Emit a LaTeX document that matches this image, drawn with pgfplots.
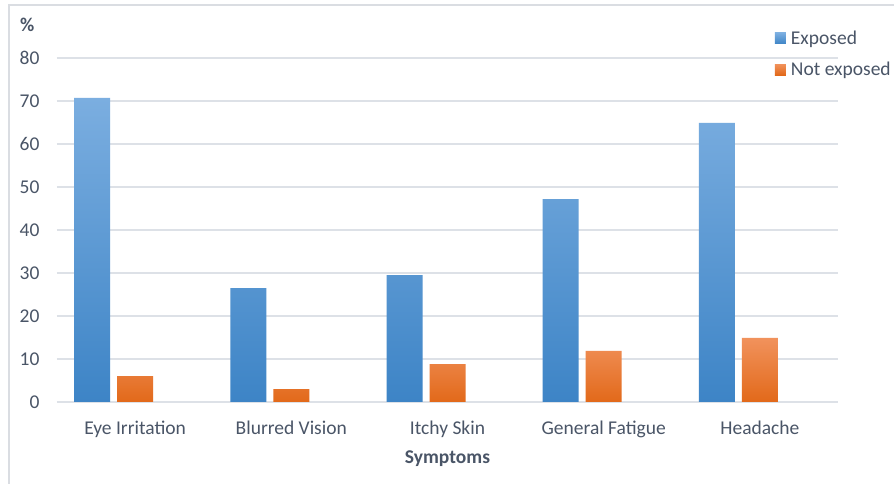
\documentclass[border=0pt]{standalone}
\usepackage{fontspec}
\setmainfont{Carlito}
\usepackage{pgfplots}
\pgfplotsset{compat=1.18}
\definecolor{txt}{HTML}{4A5567}
\definecolor{gridc}{HTML}{DDE1E7}
\definecolor{frame}{HTML}{DADDE2}
\definecolor{btop}{HTML}{7BAEE0}
\definecolor{bbot}{HTML}{3D84C6}
\definecolor{otop}{HTML}{F1925C}
\definecolor{omid}{HTML}{F5802C}
\definecolor{obot}{HTML}{E2691A}
\begin{document}
\begin{tikzpicture}[x=1pt,y=1pt]
\path[use as bounding box, fill=white] (0,0) rectangle (894,484);
\draw[frame, line width=1.2pt] (9,-5) -- (9,479) -- (900,479);
\begin{axis}[
  at={(57pt,82pt)}, anchor=south west,
  scale only axis, width=781pt, height=344pt,
  xmin=-0.5, xmax=4.5, ymin=0, ymax=80,
  ytick={0,10,...,80},
  xtick={0,1,2,3,4},
  xticklabels={Eye Irritation, Blurred Vision, Itchy Skin, General Fatigue, Headache},
  axis line style={draw=none},
  major tick length=0pt,
  ymajorgrids, grid style={gridc, line width=1.5pt},
  /pgf/number format/assume math mode=true,
  ticklabel style={font=\fontsize{19.5}{22}\selectfont, text=txt},
  yticklabel style={xshift=-14pt},
  xticklabel style={yshift=-15pt},
  xlabel={\textbf{Symptoms}},
  xlabel style={font=\fontsize{19.5}{22}\selectfont, text=txt, at={(axis description cs:0.5,0)}, anchor=center, yshift=-57pt},
  legend style={draw=none, fill=none, font=\fontsize{19.5}{22}\selectfont, text=txt,
    at={(axis description cs:0.919,1.085)}, anchor=north west,
    row sep=12pt, inner sep=0pt, cells={anchor=west}},
  legend image code/.code={\fill[#1] (0pt,-5.5pt) rectangle (11pt,5.5pt); \path (0pt,0pt) -- (14pt,0pt);},
  clip=false,
]
\addplot[ybar, bar width=36pt, bar shift=-43pt, draw=none, top color=btop, bottom color=bbot]
  coordinates {(0,70.7) (1,26.5) (2,29.5) (3,47.2) (4,64.9)};
\addlegendentry{Exposed}
\addplot[ybar, bar width=36pt, bar shift=0pt, draw=none, top color=otop, middle color=omid, bottom color=obot]
  coordinates {(0,6.0) (1,3.0) (2,8.8) (3,11.9) (4,14.9)};
\addlegendentry{Not exposed}
\node[font=\fontsize{19.5}{22}\selectfont\bfseries, text=txt] at (axis description cs:-0.038,1.095) {\%};
\end{axis}
\end{tikzpicture}
\end{document}
